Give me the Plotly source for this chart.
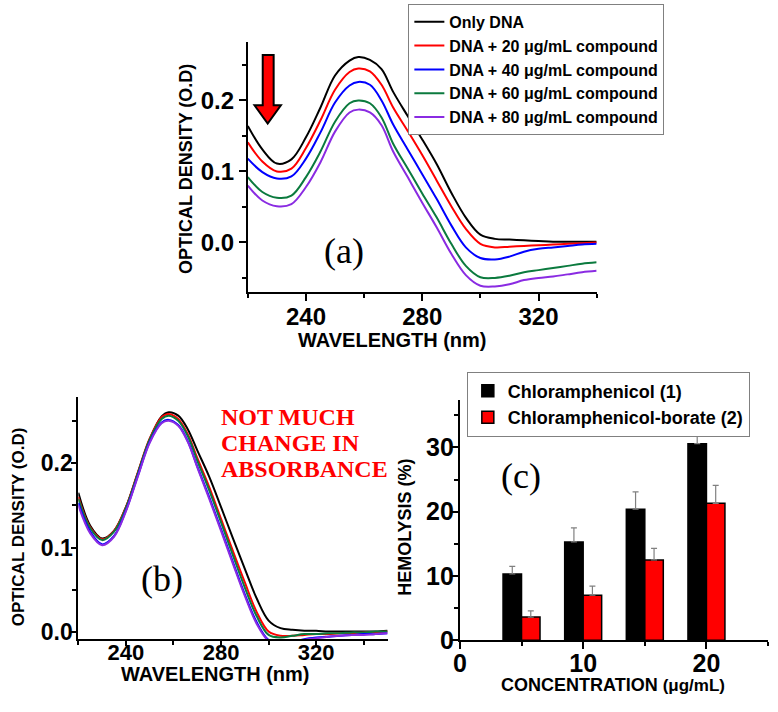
import plotly.graph_objects as go

W, H = 778, 712

# ---- data: panel (a) UV spectra of DNA with compound ----
wl_a = [220, 225, 230, 235, 240, 245, 250, 255, 258, 262, 266, 270, 275, 280,
        285, 290, 295, 300, 305, 310, 315, 320, 325, 330, 335, 340]
a_only = [0.164, 0.131, 0.111, 0.117, 0.148, 0.190, 0.235, 0.256, 0.261, 0.257, 0.244, 0.212, 0.178,
          0.145, 0.110, 0.070, 0.035, 0.011, 0.005, 0.004, 0.003, 0.002, 0.001, 0.001, 0.001, 0.001]
a_20 = [0.141, 0.114, 0.100, 0.104, 0.133, 0.172, 0.215, 0.240, 0.245, 0.241, 0.222, 0.190, 0.157,
        0.123, 0.087, 0.051, 0.019, -0.002, -0.007, -0.006, -0.005, -0.004, -0.003, -0.002, -0.001, 0.000]
a_40 = [0.118, 0.099, 0.090, 0.093, 0.118, 0.155, 0.197, 0.221, 0.226, 0.222, 0.200, 0.166, 0.131,
        0.096, 0.061, 0.024, -0.007, -0.022, -0.024, -0.020, -0.013, -0.009, -0.007, -0.005, -0.003, -0.002]
a_60 = [0.092, 0.071, 0.063, 0.066, 0.092, 0.128, 0.170, 0.196, 0.200, 0.196, 0.176, 0.139, 0.104,
        0.069, 0.035, -0.002, -0.033, -0.049, -0.050, -0.047, -0.042, -0.039, -0.036, -0.033, -0.030, -0.028]
a_80 = [0.080, 0.059, 0.051, 0.054, 0.078, 0.113, 0.156, 0.183, 0.187, 0.183, 0.165, 0.128, 0.092,
        0.056, 0.021, -0.016, -0.046, -0.061, -0.062, -0.059, -0.053, -0.050, -0.048, -0.045, -0.042, -0.040]

# ---- data: panel (b) ----
wl_b = wl_a + [345, 350]
b_only = [0.165, 0.126, 0.111, 0.120, 0.148, 0.188, 0.228, 0.255, 0.260, 0.256, 0.240, 0.215, 0.184, 0.148,
          0.111, 0.075, 0.040, 0.014, 0.005, 0.003, 0.002, 0.002, 0.001, 0.001, 0.001, 0.001, 0.001, 0.002]
b_20 = [0.160, 0.124, 0.110, 0.120, 0.148, 0.189, 0.229, 0.254, 0.258, 0.252, 0.234, 0.206, 0.172, 0.134,
        0.096, 0.059, 0.024, 0.001, -0.004, -0.004, -0.003, -0.002, -0.002, -0.001, -0.001, 0.000, 0.000, 0.001]
b_40 = [0.153, 0.119, 0.104, 0.114, 0.144, 0.185, 0.225, 0.248, 0.251, 0.245, 0.226, 0.196, 0.160, 0.122,
        0.083, 0.045, 0.012, -0.009, -0.013, -0.012, -0.008, -0.006, -0.005, -0.004, -0.003, -0.002, -0.002, -0.001]
b_60 = [0.158, 0.123, 0.109, 0.119, 0.147, 0.188, 0.228, 0.252, 0.256, 0.250, 0.232, 0.203, 0.168, 0.130,
        0.091, 0.053, 0.019, -0.003, -0.006, -0.004, -0.002, -0.002, -0.001, -0.001, 0.000, 0.000, 0.001, 0.001]
b_80 = [0.150, 0.117, 0.103, 0.113, 0.143, 0.184, 0.224, 0.247, 0.250, 0.244, 0.225, 0.195, 0.158, 0.120,
        0.081, 0.043, 0.010, -0.010, -0.014, -0.013, -0.009, -0.007, -0.005, -0.004, -0.003, -0.003, -0.002, -0.001]

names = ["Only DNA", "DNA + 20 \u03bcg/mL compound", "DNA + 40 \u03bcg/mL compound",
         "DNA + 60 \u03bcg/mL compound", "DNA + 80 \u03bcg/mL compound"]
colors = ["#000000", "#ff0000", "#0000ff", "#0b7a3e", "#8a2be2"]

# ---- data: panel (c) hemolysis ----
conc = [5, 10, 15, 20]
chl = [10.3, 15.3, 20.4, 30.6]
chl_err = [1.2, 2.2, 2.7, 3.0]
borate = [3.6, 7.0, 12.5, 21.3]
borate_err = [0.95, 1.4, 1.8, 2.8]

SANS = "Liberation Sans, Arial, sans-serif"
SERIF = "Liberation Serif, Times New Roman, serif"


def px(x):
    return x / W


def py(y):
    return 1 - y / H


fig = go.Figure()

for ys, nm, c in zip([a_only, a_20, a_40, a_60, a_80], names, colors):
    fig.add_trace(go.Scatter(x=wl_a, y=ys, name=nm, mode="lines",
                             line=dict(color=c, width=2, shape="spline", smoothing=1.0),
                             xaxis="x", yaxis="y", legend="legend"))

# draw order in (b): black, red, green, blue, violet
for i in [0, 1, 3, 2, 4]:
    ys = [b_only, b_20, b_40, b_60, b_80][i]
    fig.add_trace(go.Scatter(x=wl_b, y=ys, name=names[i], mode="lines", showlegend=False,
                             line=dict(color=colors[i], width=2, shape="spline", smoothing=1.0),
                             xaxis="x2", yaxis="y2"))

err_style = dict(type="data", symmetric=False, color="#808080", thickness=1.2, width=3)
fig.add_trace(go.Bar(x=conc, y=chl, name="Chloramphenicol (1)",
                     marker=dict(color="black", line=dict(color="black", width=1.5)),
                     error_y=dict(array=chl_err, arrayminus=[0] * 4, **err_style),
                     xaxis="x3", yaxis="y3", legend="legend2"))
fig.add_trace(go.Bar(x=conc, y=borate, name="Chloramphenicol-borate (2)",
                     marker=dict(color="#ff0000", line=dict(color="black", width=1.5)),
                     error_y=dict(array=borate_err, arrayminus=[0] * 4, **err_style),
                     xaxis="x3", yaxis="y3", legend="legend2"))


def ax(domain, rng, tickvals, minor, anchor, fsize, fmt=None, ticklen=7, standoff=0):
    d = dict(domain=domain, range=rng, tickvals=tickvals, anchor=anchor,
             showline=True, linecolor="black", linewidth=2, mirror=False,
             ticks="outside", ticklen=ticklen, tickwidth=2, tickcolor="black",
             ticklabelstandoff=standoff,
             showgrid=False, zeroline=False,
             tickfont=dict(family=SANS, size=fsize, color="black", weight="bold"),
             minor=dict(ticks="outside", dtick=minor, ticklen=4, tickwidth=2, tickcolor="black", showgrid=False))
    if fmt:
        d["tickformat"] = fmt
    return d


fig.update_layout(
    width=W, height=H, margin=dict(l=0, r=0, t=0, b=0),
    paper_bgcolor="white", plot_bgcolor="white",
    barmode="group", bargap=0.4, bargroupgap=0,
    xaxis=ax([px(243), px(595)], [220, 340], [240, 280, 320], 20, "y", 24, standoff=-5),
    yaxis=ax([py(298), py(43)], [-0.07, 0.282], [0, 0.1, 0.2], 0.05, "x", 24, ".1f"),
    xaxis2=ax([px(72), px(384)], [220, 350], [240, 280, 320], 20, "y2", 22, ticklen=5, standoff=-13),
    yaxis2=ax([py(652), py(405)], [-0.008, 0.278], [0, 0.1, 0.2], 0.05, "x2", 23, ".1f", ticklen=5, standoff=-6),
    xaxis3=ax([px(457), px(768)], [0, 25], [0, 10, 20], 5, "y3", 25, standoff=-7),
    yaxis3=ax([py(653), py(408)], [0, 37.4], [0, 10, 20, 30], 5, "x3", 25, ticklen=6, standoff=-7),
    legend=dict(x=px(405), y=py(4), xanchor="left", yanchor="top",
                bordercolor="#808080", borderwidth=1, bgcolor="white",
                font=dict(family=SANS, size=16, color="black", weight="bold"),
                tracegroupgap=0),
    legend2=dict(x=px(464), y=py(379), xanchor="left", yanchor="top",
                 bordercolor="#808080", borderwidth=1, bgcolor="white",
                 font=dict(family=SANS, size=18, color="black", weight="bold"),
                 tracegroupgap=0),
)

# red down arrow in panel (a)
fig.add_shape(type="path", xref="x", yref="y",
              path="M 225.13,0.2639 L 228.89,0.2639 L 228.89,0.1931 L 231.38,0.1931 "
                   "L 226.84,0.1673 L 222.29,0.1931 L 225.13,0.1931 Z",
              fillcolor="#ff0000", line=dict(color="black", width=2))

bold = dict(family=SANS, color="black", weight="bold")
notes = [
    dict(x=px(180), y=py(172), text="OPTICAL DENSITY (O.D)", textangle=-90, font=dict(size=18, **bold)),
    dict(x=px(389), y=py(347), text="WAVELENGTH (nm)", font=dict(size=20, **bold)),
    dict(x=px(12), y=py(537), text="OPTICAL DENSITY (O.D)", textangle=-90, font=dict(size=17, **bold)),
    dict(x=px(210), y=py(688), text="WAVELENGTH (nm)", font=dict(size=20, **bold)),
    dict(x=px(402), y=py(538), text="HEMOLYSIS (%)", textangle=-90, font=dict(size=18, **bold)),
    dict(x=px(611), y=py(699), text="CONCENTRATION <span style='font-size:17px'>(\u03bcg/mL)</span>",
         font=dict(size=18, **bold)),
    dict(x=px(340), y=py(256), text="(a)", font=dict(family=SERIF, size=36, color="black")),
    dict(x=px(156), y=py(591), text="(b)", font=dict(family=SERIF, size=36, color="black")),
    dict(x=px(519), y=py(486), text="(c)", font=dict(family=SERIF, size=36, color="black")),
]
for i, line in enumerate(["NOT MUCH", "CHANGE IN", "ABSORBANCE"]):
    notes.append(dict(x=px(214), y=py(425 + 26.5 * i), text=line, xanchor="left",
                      font=dict(family=SERIF, size=24, color="#ff0000", weight="bold")))
for n in notes:
    n.setdefault("xanchor", "center")
    fig.add_annotation(xref="paper", yref="paper", yanchor="middle", showarrow=False, **n)

# page body has a default 8px margin; drop it so the figure sits at the window origin
fig.write_html("out.html", config={"displayModeBar": False},
               post_script="document.body.style.margin='0';document.body.style.overflow='hidden';")
